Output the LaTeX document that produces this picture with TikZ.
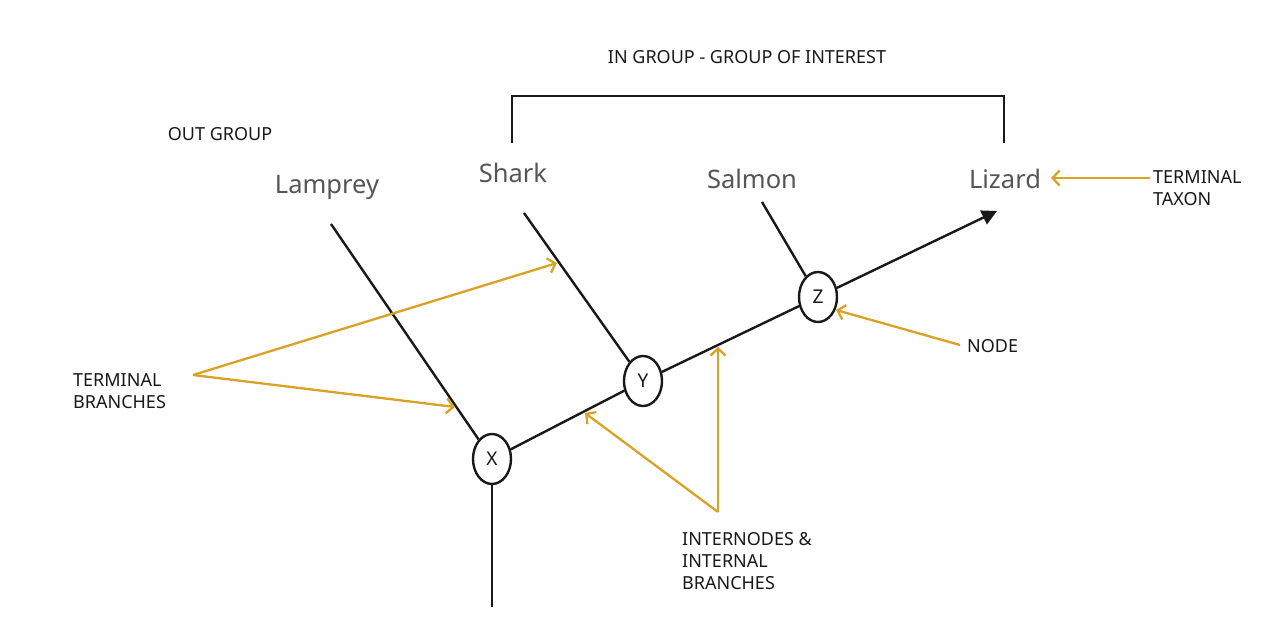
\documentclass[tikz,border=0pt]{standalone}
\usepackage{fontspec}
\setmainfont{Noto Sans}
\usetikzlibrary{arrows.meta,shapes.geometric}
\definecolor{gold}{RGB}{218,162,36}
\definecolor{taxgrey}{RGB}{85,85,85}
\definecolor{ink}{RGB}{25,25,25}
\begin{document}
\begin{tikzpicture}[x=1pt,y=-1pt,
  branch/.style={draw=ink,line width=2.4pt},
  oarrow/.style={draw=gold,line width=2.3pt,-{Straight Barb[length=7pt,width=15pt]}},
  treenode/.style={ellipse,draw=ink,line width=2.4pt,fill=white,minimum width=38pt,minimum height=50pt,inner sep=0pt,font=\fontsize{19}{19}\selectfont,text=ink},
  taxon/.style={font=\fontsize{25.5}{25.5}\selectfont,text=taxgrey,inner sep=0pt,anchor=base},
  note/.style={font=\fontsize{18}{22}\selectfont,text=ink,inner sep=0pt,align=left}]
\useasboundingbox[fill=white] (0,0) rectangle (1280,628);

% tree nodes
\node[treenode] (X) at (492,459) {X};
\node[treenode] (Y) at (643,381) {Y};
\node[treenode] (Z) at (818,297) {Z};

% free ends
\coordinate (lampTop) at (331,224);
\coordinate (sharkTop) at (524,213);
\coordinate (salmonTop) at (762,202);
\coordinate (tip) at (997,211);
\coordinate (root) at (492,607);

% branches
\draw[branch] (lampTop) -- (X);
\draw[branch] (sharkTop) -- (Y);
\draw[branch] (salmonTop) -- (Z);
\draw[branch] (X) -- (Y);
\draw[branch] (Y) -- (Z);
\draw[branch,-{Triangle[length=15pt,width=15pt]}] (Z) -- (tip);
\draw[branch] (X) -- (root);

% taxa labels
\node[taxon] (lamprey) at (327,194) {Lamprey};
\node[taxon] (shark) at (513,183) {Shark};
\node[taxon] (salmon) at (752,189) {Salmon};
\node[taxon] (lizard) at (1005,189) {Lizard};

% group labels
\node[note] (outgrp) at (220,134) {OUT GROUP};
\node[note] (ingrp) at (747,57) {IN GROUP - GROUP OF INTEREST};
\coordinate (bl) at (512,143);
\coordinate (br) at (1004,143);
\draw[branch,line cap=butt] (bl) -- (512,96) -- (1004,96) -- (br);

% annotations
\node[note,anchor=west] (tt) at (1153,188) {TERMINAL\\TAXON};
\node[note,anchor=west] (nodelbl) at (967,346) {NODE};
\node[note,anchor=west] (tb) at (73,391) {TERMINAL\\BRANCHES};
\node[note,anchor=north west] (ib) at (682,532) {INTERNODES \&\\INTERNAL\\BRANCHES};

\coordinate (ttStart) at (1150,178);
\coordinate (ttTip) at (1051,178);
\draw[oarrow] (ttStart) -- (ttTip);

\coordinate (nodeStart) at (960,345);
\coordinate (nodeTip) at (836,310);
\draw[oarrow] (nodeStart) -- (nodeTip);

\coordinate (tbV) at (193,375);
\coordinate (tbTipA) at (557,263);
\coordinate (tbTipB) at (455,407);
\draw[oarrow] (tbV) -- (tbTipA);
\draw[oarrow] (tbV) -- (tbTipB);

\coordinate (ibV) at (718,512);
\coordinate (ibTipA) at (585,413);
\coordinate (ibTipB) at (718,347);
\draw[oarrow] (ibV) -- (ibTipA);
\draw[oarrow] (ibV) -- (ibTipB);
\end{tikzpicture}
\end{document}
